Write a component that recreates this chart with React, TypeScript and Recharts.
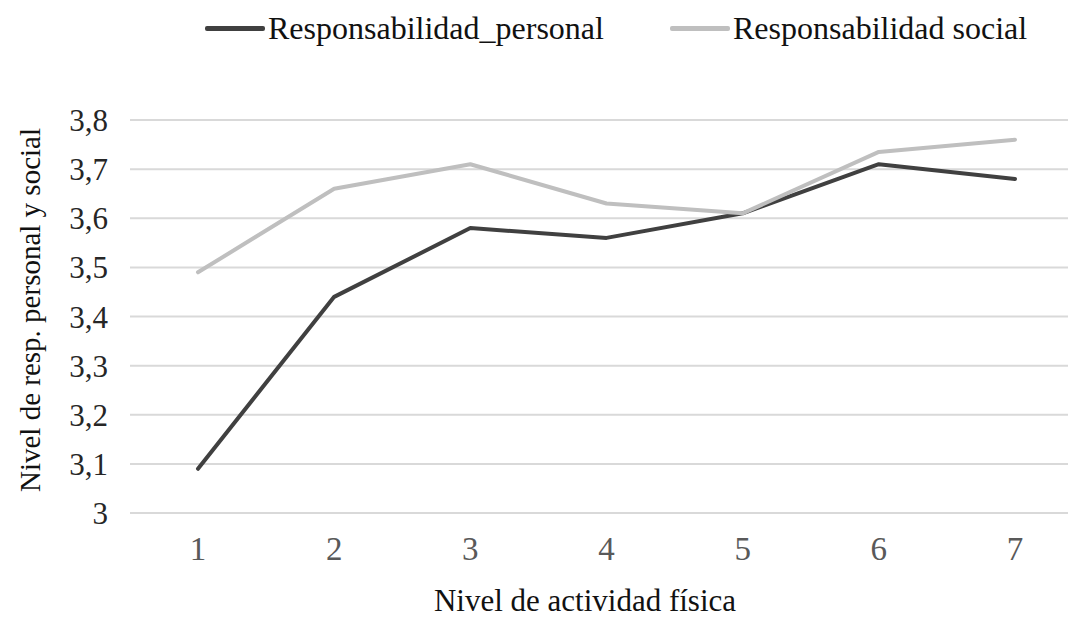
import { LineChart, Line, XAxis, YAxis, CartesianGrid, Label } from 'recharts';

const categories = ['1', '2', '3', '4', '5', '6', '7'];
const personal = [3.09, 3.44, 3.58, 3.56, 3.61, 3.71, 3.68];
const social = [3.49, 3.66, 3.71, 3.63, 3.61, 3.735, 3.76];
const yTicks = [3, 3.1, 3.2, 3.3, 3.4, 3.5, 3.6, 3.7, 3.8];

const SERIES = [
  { key: 'personal', name: 'Responsabilidad_personal', color: '#404040' },
  { key: 'social', name: 'Responsabilidad social', color: '#bfbfbf' },
];

const FONT = '"Liberation Serif", "Times New Roman", serif';

const data = categories.map((c, i) => ({ cat: c, personal: personal[i], social: social[i] }));

const fmt = (v: number) => String(Math.round(v * 10) / 10).replace('.', ',');

function TopLegend() {
  const spots = [205, 670];
  return (
    <>
      {SERIES.map((s, i) => (
        <div
          key={s.key}
          style={{ position: 'absolute', left: spots[i], top: 10, display: 'flex', alignItems: 'center', fontFamily: FONT, fontSize: 32, color: '#111', whiteSpace: 'nowrap' }}
        >
          <span style={{ display: 'inline-block', width: 60, height: 5, background: s.color, borderRadius: 2, marginRight: 3 }} />
          {s.name}
        </div>
      ))}
    </>
  );
}

export default function App() {
  return (
    <div style={{ position: 'fixed', left: 0, top: 0, width: 1068, height: 621, overflow: 'hidden', background: '#fff' }}>
      <TopLegend />
      <LineChart width={1100} height={621} data={data} margin={{ top: 120, right: 17, bottom: 0, left: 0 }}>
        <CartesianGrid vertical={false} stroke="#d9d9d9" strokeWidth={2} />
        <XAxis
          dataKey="cat"
          height={108}
          padding={{ left: 68, right: 68 }}
          axisLine={false}
          tickLine={false}
          tickSize={0}
          tickMargin={24}
          tick={{ fontFamily: FONT, fontSize: 33, fill: '#595959' }}
        >
          <Label
            content={() => (
              <text x={585} y={611} textAnchor="middle" fontFamily={FONT} fontSize={31} fill="#111">
                Nivel de actividad física
              </text>
            )}
          />
        </XAxis>
        <YAxis
          width={130}
          domain={[3, 3.8]}
          ticks={yTicks}
          axisLine={false}
          tickLine={false}
          tickSize={0}
          tickMargin={22}
          tickFormatter={fmt}
          tick={{ fontFamily: FONT, fontSize: 31, fill: '#262626' }}
        >
          <Label
            content={() => (
              <text x={30} y={310} transform="rotate(-90 30 310)" textAnchor="middle" dominantBaseline="central" fontFamily={FONT} fontSize={29} fill="#111">
                Nivel de resp. personal y social
              </text>
            )}
          />
        </YAxis>
        {SERIES.map((s) => (
          <Line
            key={s.key}
            type="linear"
            dataKey={s.key}
            name={s.name}
            stroke={s.color}
            strokeWidth={4}
            strokeLinecap="round"
            strokeLinejoin="round"
            dot={false}
            activeDot={false}
            isAnimationActive={false}
          />
        ))}
      </LineChart>
    </div>
  );
}
